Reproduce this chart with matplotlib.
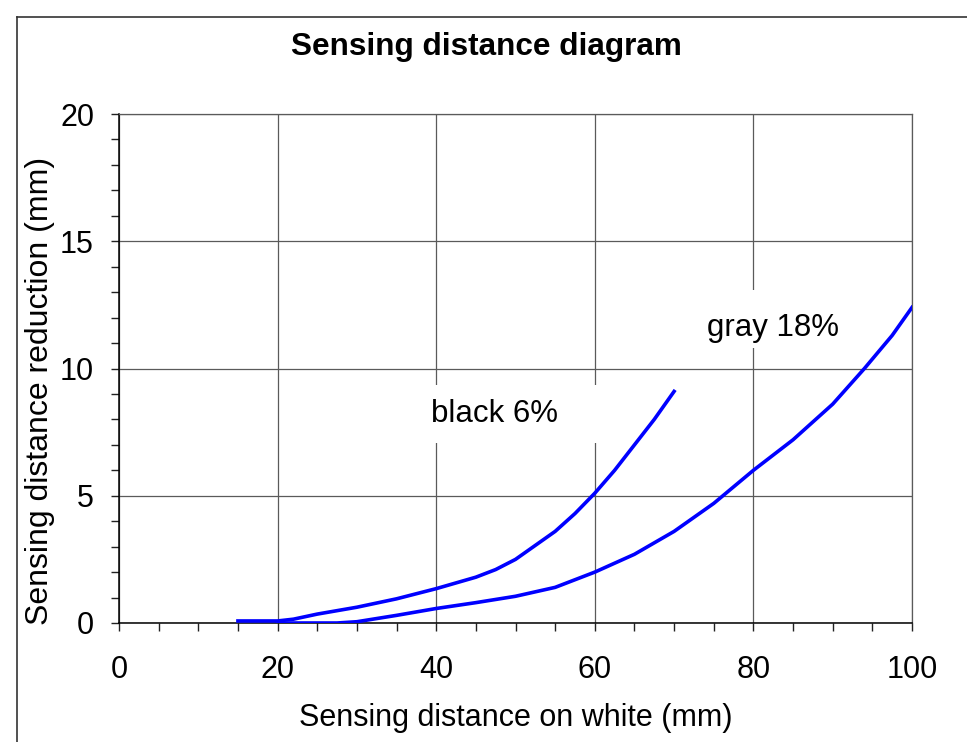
import matplotlib
matplotlib.use("Agg")
import matplotlib.pyplot as plt
from matplotlib.lines import Line2D
from matplotlib.patches import Rectangle
from matplotlib.ticker import MultipleLocator

plt.rcParams['font.family'] = ['Liberation Sans', 'DejaVu Sans']

# Data
black_x = [15, 20, 22, 25, 30, 35, 40, 45, 47.5, 50, 55, 57.5, 60, 62.5, 65, 67.5, 70]
black_y = [0.08, 0.08, 0.15, 0.35, 0.62, 0.95, 1.35, 1.8, 2.1, 2.5, 3.6, 4.3, 5.1, 6.0, 7.0, 8.0, 9.1]
gray_x = [20, 27.5, 30, 35, 40, 45, 50, 55, 60, 65, 70, 75, 80, 85, 90, 94, 97.5, 100]
gray_y = [0.0, 0.0, 0.05, 0.3, 0.57, 0.8, 1.05, 1.4, 2.0, 2.7, 3.6, 4.7, 6.0, 7.2, 8.6, 10.0, 11.3, 12.4]

title = "Sensing distance diagram"
xlabel = "Sensing distance on white (mm)"
ylabel = "Sensing distance reduction (mm)"
label_black = "black 6%"
label_gray = "gray 18%"

FS = 22
W, H = 967, 742
fig = plt.figure(figsize=(W / 100, H / 100), dpi=100)
L, R, T, B = 119, 912, 114, 623
ax = fig.add_axes([L / W, (H - B) / H, (R - L) / W, (B - T) / H])

ax.set_xlim(0, 100)
ax.set_ylim(0, 20)
ax.xaxis.set_major_locator(MultipleLocator(20))
ax.xaxis.set_minor_locator(MultipleLocator(5))
ax.yaxis.set_major_locator(MultipleLocator(5))
ax.yaxis.set_minor_locator(MultipleLocator(1))

gridc = '#5a5a5a'
ax.grid(True, which='major', color=gridc, linewidth=0.9, zorder=0)
ax.set_axisbelow(True)
for s in ['top', 'right']:
    ax.spines[s].set_color(gridc)
    ax.spines[s].set_linewidth(0.9)
for s in ['left', 'bottom']:
    ax.spines[s].set_color('black')
    ax.spines[s].set_linewidth(1.1)

ax.tick_params(which='both', direction='out', length=6, width=1.0, color='#222222',
               labelsize=FS)
ax.tick_params(axis='x', which='both', pad=17)
ax.tick_params(axis='y', which='both', pad=12)

# label backgrounds (white boxes hiding gridlines)
ax.add_patch(Rectangle((37.6, 7.07), 23.0, 2.28, facecolor='white', edgecolor='none', zorder=1.5))
ax.add_patch(Rectangle((72.0, 10.8), 20.0, 2.28, facecolor='white', edgecolor='none', zorder=1.5))

ax.plot(black_x, black_y, color='#0000ff', linewidth=2.6, solid_joinstyle='miter', zorder=3)
ax.plot(gray_x, gray_y, color='#0000ff', linewidth=2.6, solid_joinstyle='miter', zorder=3)

ax.text(39.3, 8.2, label_black, fontsize=22.5, ha='left', va='center', zorder=4)
ax.text(74.2, 11.6, label_gray, fontsize=22.5, ha='left', va='center', zorder=4)

ax.set_xlabel(xlabel, fontsize=FS)
ax.xaxis.set_label_coords(0.5, -(718 - B) / (B - T), transform=ax.transAxes)
ax.set_ylabel(ylabel, fontsize=23)
ax.yaxis.set_label_coords(-(L - 40) / (R - L), (B - 391) / (B - T), transform=ax.transAxes)
ax.xaxis.label.set_va('center')
ax.yaxis.label.set_va('center')

fig.text(486 / W, 1 - 47 / H, title, fontsize=22.7, fontweight='bold', ha='center', va='center')

# outer chart frame (left and top edges visible)
fig.add_artist(Line2D([17 / W, 17 / W], [0, 1 - 17 / H], color='#333333', linewidth=1.2, transform=fig.transFigure))
fig.add_artist(Line2D([17 / W, 1], [1 - 17 / H, 1 - 17 / H], color='#333333', linewidth=1.2, transform=fig.transFigure))

fig.savefig('out.png', dpi=100, facecolor='white')
